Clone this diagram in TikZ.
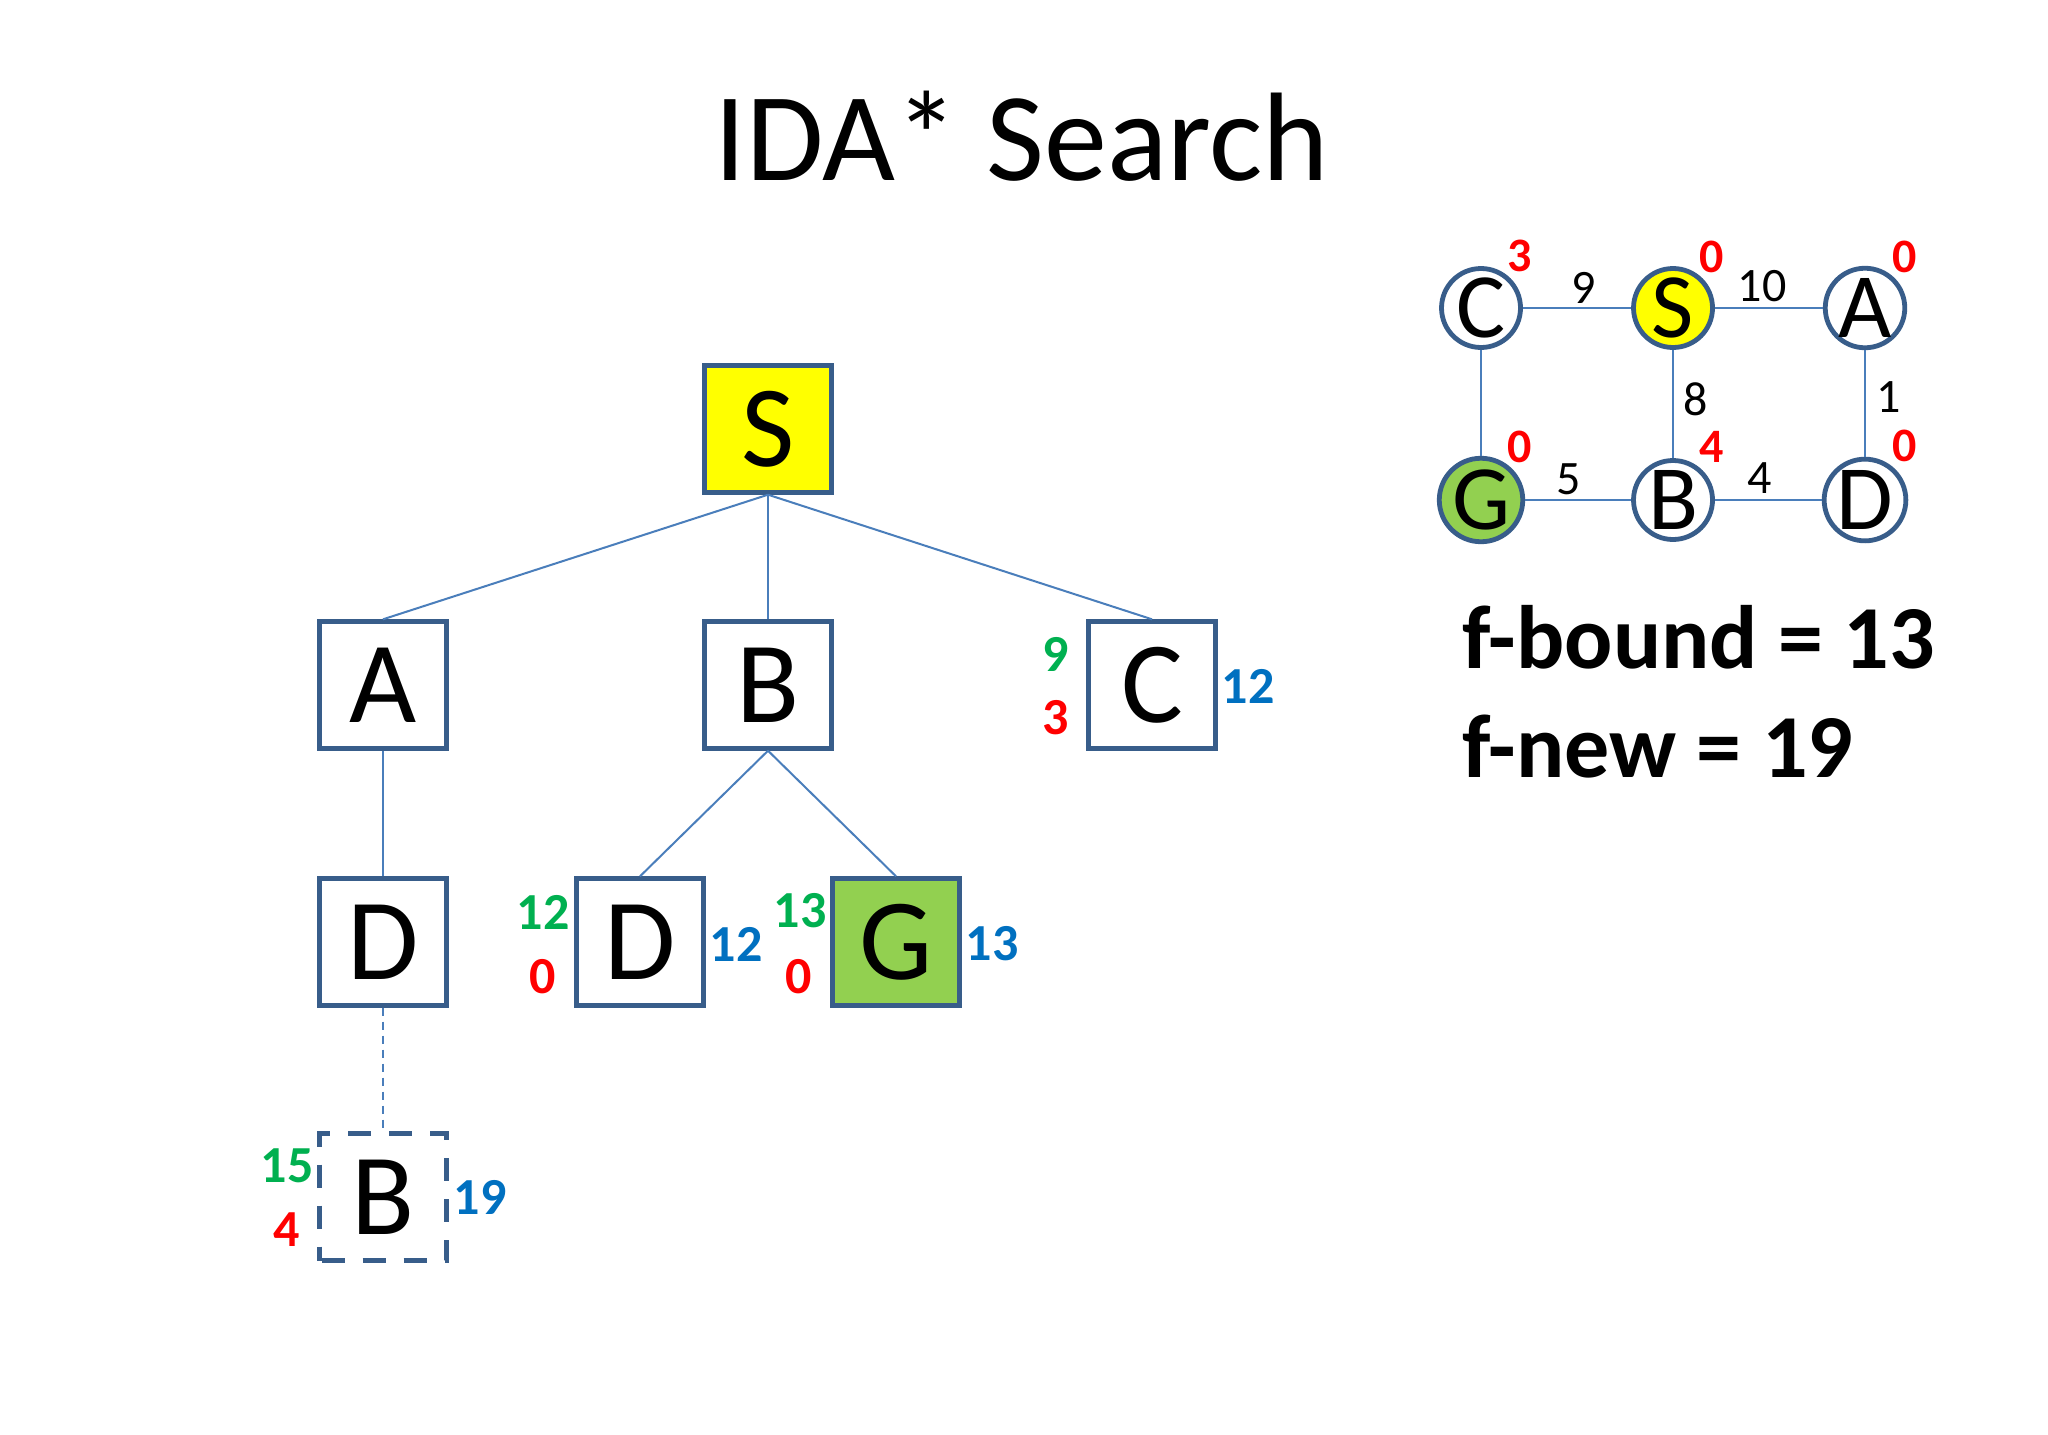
\documentclass[tikz,border=0pt]{standalone}
\usepackage{fontspec}
\setmainfont{Carlito}
\definecolor{boxc}{HTML}{385D8A}
\definecolor{edgec}{HTML}{4A7EBB}
\definecolor{yel}{HTML}{FFFF00}
\definecolor{gfill}{HTML}{92D050}
\definecolor{lgreen}{HTML}{00B050}
\definecolor{lred}{HTML}{FF0000}
\definecolor{lblue}{HTML}{0070C0}
\begin{document}
\begin{tikzpicture}[x=0.5pt,y=-0.5pt,
  tbox/.style={draw=boxc, line width=2.2pt, minimum size=63.5pt, inner sep=0pt, fill=white, font=\fontsize{58}{58}\selectfont},
  gnode/.style={circle, draw=boxc, line width=2.4pt, minimum size=39.5pt, inner sep=0pt, fill=white, font=\fontsize{46}{46}\selectfont},
  tedge/.style={draw=edgec, line width=1pt},
  lab/.style={font=\bfseries\fontsize{26}{26}\selectfont, inner sep=0pt},
  glab/.style={lab, text=lgreen},
  rlab/.style={lab, text=lred},
  blab/.style={lab, text=lblue},
  wt/.style={font=\fontsize{24}{24}\selectfont, inner sep=0pt},
  hl/.style={font=\bfseries\fontsize{24}{24}\selectfont, text=lred, inner sep=0pt}
]
\fill[white] (0,0) rectangle (2048,1434);
\useasboundingbox (0,0) rectangle (2048,1434);

% title
\node[anchor=base, inner sep=0pt, font=\fontsize{63}{63}\selectfont] (title) at (1022,180) {IDA* Search};

% tree
\node[tbox, fill=yel] (S) at (768,429) {S};
\node[tbox] (A) at (383,685) {A};
\node[tbox] (B) at (768,685) {B};
\node[tbox] (C) at (1152,685) {C};
\node[tbox] (D1) at (383,942) {D};
\node[tbox] (D2) at (640,942) {D};
\node[tbox, fill=gfill] (G) at (896,942) {G};
\node[tbox, dash pattern=on 11.5pt off 9pt, dash phase=-1pt] (Bd) at (383,1197) {B};

\draw[tedge] (S.south) -- (A.north);
\draw[tedge] (S.south) -- (B.north);
\draw[tedge] (S.south) -- (C.north);
\draw[tedge] (A.south) -- (D1.north);
\draw[tedge] (B.south) -- (D2.north);
\draw[tedge] (B.south) -- (G.north);
\draw[tedge, dash pattern=on 4pt off 3pt] (D1.south) -- (Bd.north);

% tree labels
\node[glab] (c9) at (1056,654) {9};
\node[rlab] (c3) at (1056,718) {3};
\node[blab] (c12) at (1248,686) {12};
\node[glab] (d12) at (543,912) {12};
\node[rlab] (d0) at (543,977) {0};
\node[blab] (d12b) at (736,944) {12};
\node[glab] (g13) at (800,911) {13};
\node[rlab] (g0) at (799,977) {0};
\node[blab] (g13b) at (992,944) {13};
\node[glab] (b15) at (287,1166) {15};
\node[rlab] (b4) at (287,1230) {4};
\node[blab] (b19) at (480,1197) {19};

% graph
\node[gnode] (gC) at (1481,308) {C};
\node[gnode, fill=yel] (gS) at (1673,308) {S};
\node[gnode] (gA) at (1865,308) {A};
\node[gnode, fill=gfill] (gG) at (1481,500) {G};
\node[gnode] (gB) at (1673,500) {B};
\node[gnode] (gD) at (1865,500) {D};

\draw[tedge] (gC) -- (gS);
\draw[tedge] (gS) -- (gA);
\draw[tedge] (gC) -- (gG);
\draw[tedge] (gS) -- (gB);
\draw[tedge] (gA) -- (gD);
\draw[tedge] (gG) -- (gB);
\draw[tedge] (gB) -- (gD);

\node[wt] (w9) at (1584,288) {9};
\node[wt] (w10) at (1762,286) {10};
\node[wt] (w8) at (1696,399) {8};
\node[wt] (w1) at (1889,397) {1};
\node[wt] (w5) at (1569,479) {5};
\node[wt] (w4) at (1760,478) {4};

\node[hl] (hC) at (1520,256) {3};
\node[hl] (hS) at (1712,257) {0};
\node[hl] (hA) at (1905,257) {0};
\node[hl] (hG) at (1520,447) {0};
\node[hl] (hB) at (1712,447) {4};
\node[hl] (hD) at (1905,446) {0};

% f values
\node[anchor=base west, inner sep=0pt, font=\bfseries\fontsize{45}{45}\selectfont] (fb) at (1462,668) {f-bound = 13};
\node[anchor=base west, inner sep=0pt, font=\bfseries\fontsize{45}{45}\selectfont] (fn) at (1462,777) {f-new = 19};
\end{tikzpicture}
\end{document}
